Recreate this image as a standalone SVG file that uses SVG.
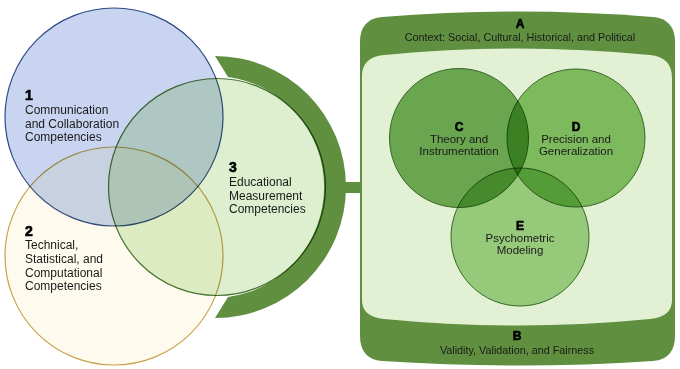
<svg xmlns="http://www.w3.org/2000/svg" width="680" height="369" viewBox="0 0 680 369">
<style>
.t{font-family:"Liberation Sans",Arial,sans-serif;fill:#1a1a1a}
.lbl{font-size:12px}
.sm{font-size:11.5px}
.ctx{font-size:10.8px}
.num{font-family:"Liberation Sans",Arial,sans-serif;font-weight:900;font-size:14px;fill:#000;stroke:#000;stroke-width:0.7}
.let{font-family:"Liberation Sans",Arial,sans-serif;font-weight:900;font-size:12px;fill:#000;stroke:#000;stroke-width:0.6}
.dk{fill:#5f8f3f}
.m{mix-blend-mode:multiply}
.g{stroke:#3f6d2c;stroke-width:1}
</style>
<rect width="680" height="369" fill="#ffffff"/>
<g id="connectors">
<rect x="340" y="182" width="22" height="11" class="dk"/>
</g>
<g id="box-context">
<path class="dk" d="M360 42 Q360 19 382 17 Q518 6 653 17 Q675 19 675 42 L675 336 Q675 359 653 361 Q518 370 382 361 Q360 359 360 336 Z"/>
<path fill="#e2f0d4" d="M362 76 Q362 57 384 55 Q518 42 650 55 Q672 57 672 78 L672 300 Q672 317 650 319 Q518 332 384 319 Q362 317 362 300 Z"/>
<text class="let" x="520" y="27.5" text-anchor="middle">A</text>
<text class="t ctx" x="520" y="41" text-anchor="middle">Context: Social, Cultural, Historical, and Political</text>
<text class="let" x="517" y="340" text-anchor="middle">B</text>
<text class="t ctx" x="517" y="354" text-anchor="middle">Validity, Validation, and Fairness</text>
</g>
<g id="node-C">
<circle class="m g" cx="459" cy="138" r="69.5" fill="#78b05f"/>
</g>
<g id="node-D">
<circle class="m g" cx="576" cy="138" r="69" fill="#8dc671"/>
</g>
<g id="node-E">
<circle class="m g" cx="520" cy="237" r="69" fill="#aad694"/>
</g>
<g id="labels-CDE">
<text class="let" x="459" y="131" text-anchor="middle">C</text>
<text class="t sm" x="459" y="143" text-anchor="middle">Theory and</text>
<text class="t sm" x="459" y="155" text-anchor="middle">Instrumentation</text>
<text class="let" x="576" y="131" text-anchor="middle">D</text>
<text class="t sm" x="576" y="143" text-anchor="middle">Precision and</text>
<text class="t sm" x="576" y="155" text-anchor="middle">Generalization</text>
<text class="let" x="520" y="230" text-anchor="middle">E</text>
<text class="t sm" x="520" y="242" text-anchor="middle">Psychometric</text>
<text class="t sm" x="520" y="254" text-anchor="middle">Modeling</text>
</g>
<g id="ring">
<path class="dk" d="M215 56 A131 131 0 0 1 215 318 L228 297 A111 111 0 0 0 228 77 Z"/>
</g>
<g id="node-1">
<circle class="m" cx="114" cy="117" r="109" fill="#c9d5f0" stroke="#2e4a85" stroke-width="1.2"/>
</g>
<g id="node-2">
<circle class="m" cx="114" cy="256" r="109" fill="#fefbee" stroke="#c8a24c" stroke-width="1.2"/>
</g>
<g id="node-3">
<circle class="m" cx="217" cy="187" r="108.5" fill="#ddefcf" stroke="#4a7535" stroke-width="1.2"/>
</g>
<g id="labels-123">
<text class="num" x="25" y="100">1</text>
<text class="t lbl" x="25" y="114">Communication</text>
<text class="t lbl" x="25" y="128">and Collaboration</text>
<text class="t lbl" x="25" y="141">Competencies</text>
<text class="num" x="25" y="236">2</text>
<text class="t lbl" x="25" y="249">Technical,</text>
<text class="t lbl" x="25" y="263">Statistical, and</text>
<text class="t lbl" x="25" y="277">Computational</text>
<text class="t lbl" x="25" y="290">Competencies</text>
<text class="num" x="229" y="172">3</text>
<text class="t lbl" x="229" y="186">Educational</text>
<text class="t lbl" x="229" y="200">Measurement</text>
<text class="t lbl" x="229" y="213">Competencies</text>
</g>
</svg>
